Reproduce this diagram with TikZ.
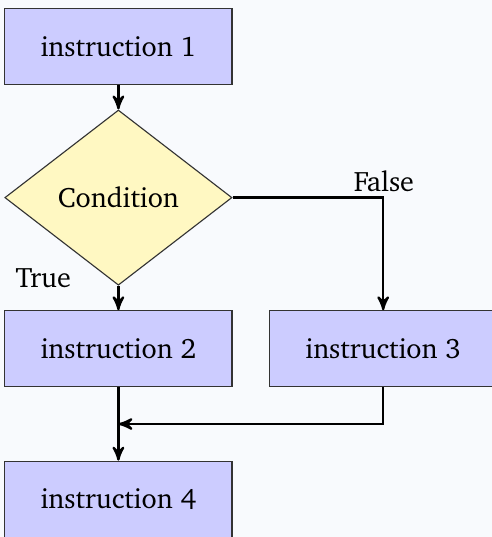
\documentclass[tikz,border=0pt]{standalone}
\usepackage[T1]{fontenc}
\usepackage{charter}
\usepackage{tikz}
\usepackage{xcolor}
\usetikzlibrary{arrows, shapes.geometric, calc}

\definecolor{pagebg}{RGB}{248,250,253}
\definecolor{stepfill}{RGB}{204,204,255}
\definecolor{testfill}{RGB}{255,248,194}

\tikzset{
    instr/.style={rectangle, draw=black!80, fill=stepfill, minimum width=2.84cm, minimum height=0.95cm},
    test/.style={diamond, draw=black!80, fill=testfill, inner sep=0pt, minimum width=2.84cm, minimum height=2.19cm},
    flow/.style={->, >=stealth', thick}
}

\begin{document}
\begin{tikzpicture}
                        \fill[pagebg] (0, 0) rectangle (6.15, -6.7125);
                        \useasboundingbox (0, 0) rectangle (6.15, -6.7125);

                        \node[instr] (i1) at (1.48, -0.58) {instruction 1};
                        \node[test] (c) at (1.48, -2.47) {Condition};
                        \node[instr] (i2) at (1.48, -4.36) {instruction 2};
                        \node[instr] (i3) at (4.79, -4.36) {instruction 3};
                        \node[instr] (i4) at (1.48, -6.24) {instruction 4};
                        \coordinate (join) at (1.48, -5.3);

                        \node (t) at (0.54, -3.475) {True};
                        \node (f) at (4.8, -2.26) {False};

                        \draw[flow]
                        (i1) edge (c)
                        (c) edge (i2)
                        (i2) edge (i4);
                        \draw[flow] (c.east) -| (i3.north);
                        \draw[flow] (i3.south) |- (join);
                    \end{tikzpicture}
\end{document}
